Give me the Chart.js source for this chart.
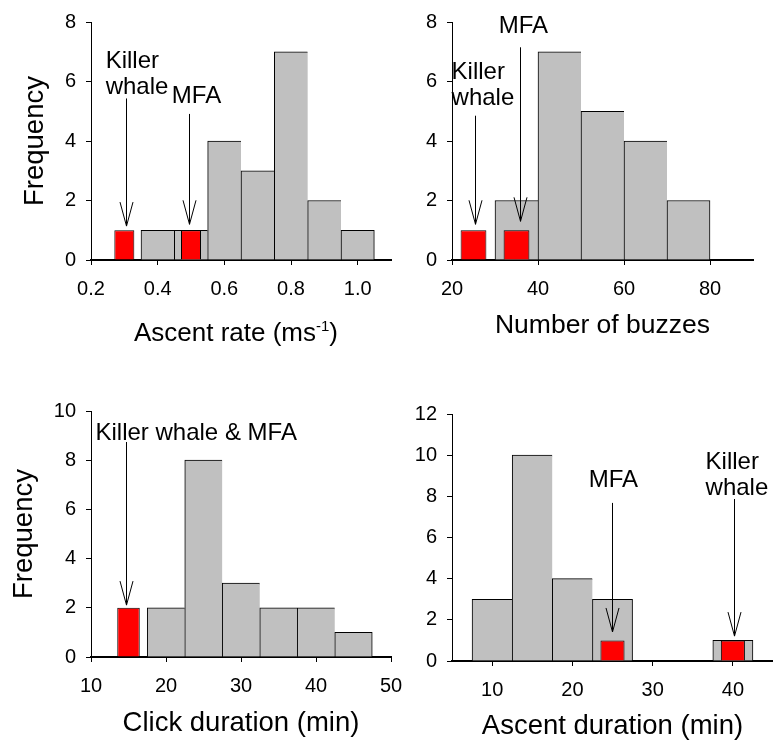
<!DOCTYPE html>
<html>
<head>
<meta charset="utf-8">
<script src="https://cdn.jsdelivr.net/npm/chart.js@4/dist/chart.umd.min.js"></script>
<style>
  html, body { margin: 0; padding: 0; background: #fff; }
  #wrap { position: relative; width: 773px; height: 747px; overflow: hidden; }
  #wrap canvas { position: absolute; left: 0; top: 0; }
</style>
</head>
<body>
<div id="wrap">
  <canvas id="rate" width="773" height="747"></canvas>
  <canvas id="buzz" width="773" height="747"></canvas>
  <canvas id="click" width="773" height="747"></canvas>
  <canvas id="ascent" width="773" height="747"></canvas>
</div>
<script>
// Ascent rate (m/s): bin centres and counts, plus the two exposure dives
const rateBins = [0.4, 0.5, 0.6, 0.7, 0.8, 0.9, 1.0];
const rateCounts = [1, 1, 4, 3, 7, 2, 1];
const rateMarked = [0.3, 0.5];
const rateMarkedCounts = [1, 1];
const rateTicks = [0.2, 0.4, 0.6, 0.8, 1.0];
const rateFreqTicks = [0, 2, 4, 6, 8];

// Number of buzzes
const buzzBins = [35, 45, 55, 65, 75];
const buzzCounts = [2, 7, 5, 4, 2];
const buzzMarked = [25, 35];
const buzzMarkedCounts = [1, 1];
const buzzTicks = [20, 40, 60, 80];
const buzzFreqTicks = [0, 2, 4, 6, 8];

// Click duration (min)
const clickBins = [20, 25, 30, 35, 40, 45];
const clickCounts = [2, 8, 3, 2, 2, 1];
const clickMarked = [15];
const clickMarkedCounts = [2];
const clickTicks = [10, 20, 30, 40, 50];
const clickFreqTicks = [0, 2, 4, 6, 8, 10];

// Ascent duration (min)
const ascentBins = [10, 15, 20, 25, 40];
const ascentCounts = [3, 10, 4, 3, 1];
const ascentMarked = [25, 40];
const ascentMarkedCounts = [1, 1];
const ascentTicks = [10, 20, 30, 40];
const ascentFreqTicks = [0, 2, 4, 6, 8, 10, 12];

const FONT = "'Liberation Sans', Arial, Helvetica, sans-serif";
Chart.defaults.font.family = FONT;
Chart.defaults.color = '#000';

// Arrows with text labels pointing at the marked bars, plus an optional
// x-axis title that needs a superscript.
const arrowNotes = {
  id: 'arrowNotes',
  afterDraw(chart, args, opts) {
    const { ctx, chartArea } = chart;
    const x = chart.scales.x, y = chart.scales.y;
    ctx.save();
    ctx.strokeStyle = '#000';
    ctx.fillStyle = '#000';
    ctx.lineWidth = 1;
    ctx.font = '24px ' + FONT;
    ctx.textBaseline = 'alphabetic';
    for (const n of (opts.items || [])) {
      const ax = Math.round(x.getPixelForValue(n.x)) + 0.5;
      const y0 = y.getPixelForValue(n.from);
      const y1 = y.getPixelForValue(n.to);
      ctx.beginPath();
      ctx.moveTo(ax, y0);
      ctx.lineTo(ax, y1);
      ctx.moveTo(ax - 6.5, y1 - 24);
      ctx.lineTo(ax, y1);
      ctx.lineTo(ax + 6.5, y1 - 24);
      ctx.stroke();
      ctx.textAlign = n.align;
      const tx = x.getPixelForValue(n.tx);
      let ty = y.getPixelForValue(n.ty);
      for (let i = n.lines.length - 1; i >= 0; i--) {
        ctx.fillText(n.lines[i], tx, ty);
        ty -= 26;
      }
    }
    const t = opts.supTitle;
    if (t) {
      const big = '26px ' + FONT, small = '15px ' + FONT;
      ctx.font = big;
      const w1 = ctx.measureText(t.main).width;
      const w3 = ctx.measureText(t.tail).width;
      ctx.font = small;
      const w2 = ctx.measureText(t.sup).width;
      const total = w1 + w2 + w3;
      let sx = (chartArea.left + chartArea.right) / 2 - total / 2 - 5;
      const by = chartArea.bottom + t.offset;
      ctx.textAlign = 'left';
      ctx.font = big;
      ctx.fillText(t.main, sx, by);
      sx += w1;
      ctx.font = small;
      ctx.fillText(t.sup, sx, by - 10);
      sx += w2;
      ctx.font = big;
      ctx.fillText(t.tail, sx, by);
    }
    ctx.restore();
  }
};

function sideBorders(bins) {
  let step = Infinity;
  for (let i = 1; i < bins.length; i++) step = Math.min(step, bins[i] - bins[i - 1]);
  return (c) => {
    const i = c.dataIndex;
    const open = i === bins.length - 1 || bins[i + 1] - bins[i] > step * 1.01;
    return { left: 1, top: 1, right: open ? 1 : 0, bottom: 0 };
  };
}

function makeHistogram(id, p) {
  const W = 773, H = 747;
  return new Chart(document.getElementById(id), {
    type: 'bar',
    data: {
      datasets: [
        {
          data: p.marked.map((v, i) => ({ x: v, y: p.markedCounts[i] })),
          backgroundColor: '#ff0000',
          borderColor: '#000',
          borderWidth: 1,
          borderSkipped: 'start',
          barPercentage: 0.6,
          categoryPercentage: 1,
          grouped: false
        },
        {
          data: p.bins.map((v, i) => ({ x: v, y: p.counts[i] })),
          backgroundColor: '#c0c0c0',
          borderColor: '#000',
          borderWidth: sideBorders(p.bins),
          borderSkipped: 'start',
          barPercentage: 1,
          categoryPercentage: 1,
          grouped: false
        }
      ]
    },
    options: {
      responsive: false,
      animation: false,
      devicePixelRatio: 1,
      events: [],
      layout: {
        padding: {
          left: p.area.left - p.yWidth,
          top: p.area.top,
          right: W - p.area.right,
          bottom: H - p.area.bottom - p.xHeight
        }
      },
      plugins: {
        legend: { display: false },
        tooltip: { enabled: false },
        arrowNotes: { items: p.notes, supTitle: p.supTitle }
      },
      scales: {
        x: {
          type: 'linear',
          min: p.xMin,
          max: p.xMax,
          offset: false,
          afterBuildTicks: (s) => { s.ticks = p.xTicks.map(v => ({ value: v })); },
          afterFit: (s) => { s.height = p.xHeight; },
          grid: { display: true, offset: false, drawOnChartArea: false, drawTicks: true, tickLength: 5, color: '#000', lineWidth: 1 },
          border: { display: true, color: '#000', width: 2 },
          ticks: {
            font: { size: 20 },
            color: '#000',
            padding: 12,
            autoSkip: false,
            maxRotation: 0,
            callback: p.xFormat
          },
          title: p.xTitle
            ? { display: true, text: p.xTitle, font: { size: p.xTitleSize }, color: '#000' }
            : { display: false }
        },
        y: {
          min: 0,
          max: p.yMax,
          afterBuildTicks: (s) => { s.ticks = p.yTicks.map(v => ({ value: v })); },
          afterFit: (s) => { s.width = p.yWidth; },
          grid: { display: true, drawOnChartArea: false, drawTicks: true, tickLength: 5, color: '#000', lineWidth: 1 },
          border: { display: true, color: '#000', width: 1 },
          ticks: { font: { size: 20 }, color: '#000', padding: 10 },
          title: p.yTitle
            ? { display: true, text: p.yTitle, font: { size: 27.5 }, color: '#000' }
            : { display: false }
        }
      }
    },
    plugins: [arrowNotes]
  });
}

const intLabel = (v) => String(v);

makeHistogram('rate', {
  bins: rateBins, counts: rateCounts, marked: rateMarked, markedCounts: rateMarkedCounts,
  xTicks: rateTicks, yTicks: rateFreqTicks, xMin: 0.2, xMax: 1.1, yMax: 8,
  xFormat: (v) => Number(v).toFixed(1),
  area: { left: 91, top: 14, right: 391, bottom: 260 }, yWidth: 76, xHeight: 45,
  yTitle: 'Frequency', xTitle: null,
  supTitle: { main: 'Ascent rate (ms', sup: '-1', tail: ')', offset: 81 },
  notes: [
    { x: 0.305, from: 5.43, to: 1.14, lines: ['Killer', 'whale'], align: 'left', tx: 0.244, ty: 5.59 },
    { x: 0.494, from: 4.91, to: 1.20, lines: ['MFA'], align: 'center', tx: 0.5165, ty: 5.27 }
  ]
});

makeHistogram('buzz', {
  bins: buzzBins, counts: buzzCounts, marked: buzzMarked, markedCounts: buzzMarkedCounts,
  xTicks: buzzTicks, yTicks: buzzFreqTicks, xMin: 20, xMax: 90, yMax: 8,
  xFormat: intLabel,
  area: { left: 452, top: 14, right: 753, bottom: 260 }, yWidth: 40, xHeight: 86,
  yTitle: null, xTitle: 'Number of buzzes', xTitleSize: 26.5,
  notes: [
    { x: 25.35, from: 4.85, to: 1.2, lines: ['Killer', 'whale'], align: 'left', tx: 19.9, ty: 5.2 },
    { x: 35.8, from: 7.15, to: 1.3, lines: ['MFA'], align: 'center', tx: 36.6, ty: 7.64 }
  ]
});

makeHistogram('click', {
  bins: clickBins, counts: clickCounts, marked: clickMarked, markedCounts: clickMarkedCounts,
  xTicks: clickTicks, yTicks: clickFreqTicks, xMin: 10, xMax: 50, yMax: 10,
  xFormat: intLabel,
  area: { left: 91, top: 411, right: 391, bottom: 657 }, yWidth: 87, xHeight: 87,
  yTitle: 'Frequency', xTitle: 'Click duration (min)', xTitleSize: 27.5,
  notes: [
    { x: 14.67, from: 8.74, to: 2.11, lines: ['Killer whale & MFA'], align: 'left', tx: 10.6, ty: 8.82 }
  ]
});

makeHistogram('ascent', {
  bins: ascentBins, counts: ascentCounts, marked: ascentMarked, markedCounts: ascentMarkedCounts,
  xTicks: ascentTicks, yTicks: ascentFreqTicks, xMin: 5, xMax: 45, yMax: 12,
  xFormat: intLabel,
  area: { left: 452, top: 414, right: 773, bottom: 661 }, yWidth: 40, xHeight: 86,
  yTitle: null, xTitle: 'Ascent duration (min)', xTitleSize: 27.5,
  notes: [
    { x: 24.94, from: 7.68, to: 1.41, lines: ['MFA'], align: 'center', tx: 25.12, ty: 8.45 },
    { x: 40.14, from: 7.87, to: 1.21, lines: ['Killer', 'whale'], align: 'left', tx: 36.6, ty: 8.07 }
  ]
});
</script>
</body>
</html>
